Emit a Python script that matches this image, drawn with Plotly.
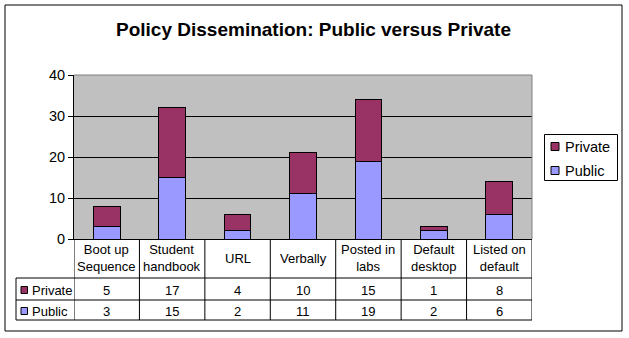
import plotly.graph_objects as go

# ---- data ----
categories = ["Boot up<br>Sequence", "Student<br>handbook", "URL", "Verbally",
              "Posted in<br>labs", "Default<br>desktop", "Listed on<br>default"]
public = [3, 15, 2, 11, 19, 2, 6]
private = [5, 17, 4, 10, 15, 1, 8]
series_names = ["Private", "Public"]
series_colors = {"Private": "#993366", "Public": "#9999FF"}
y_ticks = [0, 10, 20, 30, 40]
title_text = "Policy Dissemination: Public versus Private"

FONT = "Liberation Sans, Arial, sans-serif"
W, H = 629, 338
PL, PR, PT, PB = 74, 532, 75, 239


def px(xp):
    return (xp - PL) / (PR - PL)


def py(yp):
    return (PB - yp) / (PB - PT)


fig = go.Figure()
fig.add_trace(go.Bar(x=categories, y=public, name="Public",
                     marker=dict(color=series_colors["Public"], line=dict(color="black", width=1)),
                     showlegend=False))
fig.add_trace(go.Bar(x=categories, y=private, name="Private",
                     marker=dict(color=series_colors["Private"], line=dict(color="black", width=1)),
                     showlegend=False))

shapes = []
annotations = []

# outer chart border
shapes.append(dict(type="rect", xref="paper", yref="paper", x0=px(5), x1=px(622),
                   y0=py(331), y1=py(5), line=dict(color="black", width=1)))
# plot area top/right border
shapes.append(dict(type="line", xref="paper", yref="paper", x0=0, x1=1, y0=1, y1=1,
                   line=dict(color="#808080", width=1), layer="above"))
shapes.append(dict(type="line", xref="paper", yref="paper", x0=1, x1=1, y0=0, y1=1,
                   line=dict(color="#808080", width=1), layer="above"))

# data table grid
for yy in (278, 300, 320):
    shapes.append(dict(type="line", xref="paper", yref="paper", x0=px(16), x1=1,
                       y0=py(yy), y1=py(yy), line=dict(color="black", width=1)))
for i in range(len(categories) + 1):
    shapes.append(dict(type="line", xref="x", yref="paper", x0=i - 0.5, x1=i - 0.5,
                       y0=py(320), y1=0, line=dict(color="black", width=1)))
shapes.append(dict(type="line", xref="paper", yref="paper", x0=px(16), x1=px(16),
                   y0=py(320), y1=py(278), line=dict(color="black", width=1)))

# table contents
for c in categories:
    annotations.append(dict(x=c, y=py(258), xref="x", yref="paper", text=c, showarrow=False,
                            xanchor="center", yanchor="middle",
                            font=dict(family=FONT, size=13, color="black")))
row_y = {"Private": 290, "Public": 311}
row_vals = {"Private": private, "Public": public}
for name in series_names:
    yc = row_y[name]
    for c, v in zip(categories, row_vals[name]):
        annotations.append(dict(x=c, y=py(yc), xref="x", yref="paper", text=str(v),
                                showarrow=False, xanchor="center", yanchor="middle",
                                font=dict(family=FONT, size=13, color="black")))
    shapes.append(dict(type="rect", xref="paper", yref="paper", x0=px(21), x1=px(27.5),
                       y0=py(yc + 3.5), y1=py(yc - 3.5), fillcolor=series_colors[name],
                       line=dict(color="black", width=1)))
    annotations.append(dict(x=px(30), y=py(yc), xref="paper", yref="paper", text=name,
                            showarrow=False, xanchor="left", yanchor="middle",
                            font=dict(family=FONT, size=13, color="black")))

# legend (drawn box)
shapes.append(dict(type="rect", xref="paper", yref="paper", x0=px(544.5), x1=px(617.5),
                   y0=py(180.5), y1=py(134.5), fillcolor="white", line=dict(color="black", width=1)))
leg_y = {"Private": 146.5, "Public": 170.5}
for name in series_names:
    yc = leg_y[name]
    shapes.append(dict(type="rect", xref="paper", yref="paper", x0=px(551), x1=px(559),
                       y0=py(yc + 4), y1=py(yc - 4), fillcolor=series_colors[name],
                       line=dict(color="black", width=1)))
    annotations.append(dict(x=px(563), y=py(yc), xref="paper", yref="paper", text=name,
                            showarrow=False, xanchor="left", yanchor="middle",
                            font=dict(family=FONT, size=14.5, color="black")))

fig.update_layout(
    width=W, height=H,
    margin=dict(l=PL, r=W - PR, t=PT, b=H - PB, pad=0),
    paper_bgcolor="white",
    plot_bgcolor="#C0C0C0",
    barmode="stack",
    bargap=0.59,
    title=dict(text="<b>" + title_text + "</b>", x=313.5 / W, xanchor="center", xref="container",
               y=1 - 29 / H, yanchor="middle", yref="container",
               font=dict(family=FONT, size=19, color="black")),
    xaxis=dict(type="category", range=[-0.5, len(categories) - 0.5], showticklabels=False,
               showline=True, linecolor="black", linewidth=1, ticks="", showgrid=False,
               zeroline=False, fixedrange=True),
    yaxis=dict(range=[0, 40], tickvals=y_ticks, showgrid=True, gridcolor="black", gridwidth=1,
               showline=True, linecolor="black", linewidth=1, ticks="outside", ticklen=5,
               tickcolor="black", zeroline=False,
               tickfont=dict(family=FONT, size=14.5, color="black"), fixedrange=True),
    shapes=shapes,
    annotations=annotations,
    showlegend=False,
)

fig.write_html("out.html")
